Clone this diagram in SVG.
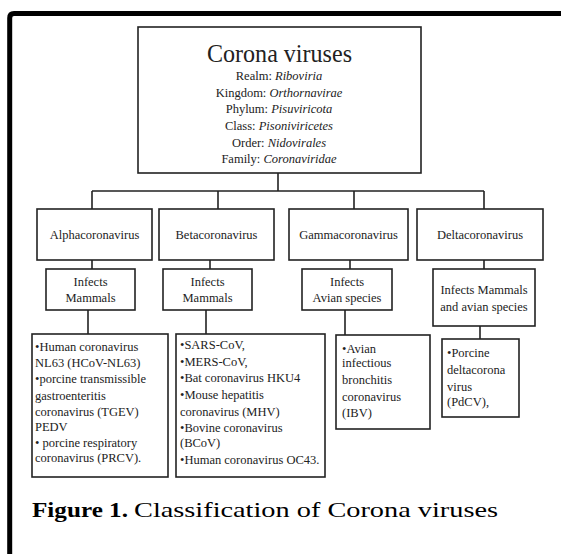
<svg xmlns="http://www.w3.org/2000/svg" width="561" height="554" viewBox="0 0 561 554">
<style>
.box{fill:#fff;stroke:#222;stroke-width:1.6}
.ln{stroke:#222;stroke-width:1.6;fill:none}
.t{font-family:"Liberation Serif","Times New Roman",serif;fill:#222;font-size:12.5px}
.c{text-anchor:middle}
.i{font-style:italic}
.cap{font-family:"Liberation Serif","Times New Roman",serif;fill:#000;font-size:22px}
</style>
<rect x="0" y="0" width="561" height="554" fill="#fff"/>
<path d="M9.7,600 V18 Q9.7,13.5 14,13.5 H600" fill="none" stroke="#000" stroke-width="5"/>

<g id="connectors">
<path class="ln" d="M278,173 V191 M92,191 H484 M92,191 V209 M218,191 V209 M354,191 V209 M484,191 V209"/>
<path class="ln" d="M92,260 V269 M210,260 V269 M350,260 V269 M484,260 V269"/>
<path class="ln" d="M88,310 V334 M206,310 V334 M345,310 V335 M480,326 V339"/>
</g>

<g id="root">
<rect class="box" x="138" y="27" width="283" height="146"/>
<text class="t" x="207" y="62" style="font-size:26px" textLength="145" lengthAdjust="spacingAndGlyphs">Corona viruses</text>
<text class="t c" x="279" y="80">Realm: <tspan class="i">Riboviria</tspan></text>
<text class="t c" x="279" y="96.5">Kingdom: <tspan class="i">Orthornavirae</tspan></text>
<text class="t c" x="279" y="113">Phylum: <tspan class="i">Pisuviricota</tspan></text>
<text class="t c" x="279" y="130">Class: <tspan class="i">Pisoniviricetes</tspan></text>
<text class="t c" x="279" y="146.5">Order: <tspan class="i">Nidovirales</tspan></text>
<text class="t c" x="279" y="163">Family: <tspan class="i">Coronaviridae</tspan></text>
</g>

<g id="alpha">
<rect class="box" x="37" y="209" width="115" height="51"/>
<text class="t c" x="94.5" y="239">Alphacoronavirus</text>
</g>
<g id="beta">
<rect class="box" x="159" y="209" width="115" height="51"/>
<text class="t c" x="216.5" y="239">Betacoronavirus</text>
</g>
<g id="gamma">
<rect class="box" x="289" y="209" width="119" height="51"/>
<text class="t c" x="348.5" y="239">Gammacoronavirus</text>
</g>
<g id="delta">
<rect class="box" x="417" y="209" width="126" height="51"/>
<text class="t c" x="480" y="239">Deltacoronavirus</text>
</g>

<g id="alpha-host">
<rect class="box" x="46" y="269" width="89" height="41"/>
<text class="t c" x="90.5" y="286">Infects</text>
<text class="t c" x="90.5" y="302">Mammals</text>
</g>
<g id="beta-host">
<rect class="box" x="163" y="269" width="89" height="41"/>
<text class="t c" x="207.5" y="286">Infects</text>
<text class="t c" x="207.5" y="302">Mammals</text>
</g>
<g id="gamma-host">
<rect class="box" x="302" y="269" width="90" height="41"/>
<text class="t c" x="347" y="286">Infects</text>
<text class="t c" x="347" y="302">Avian species</text>
</g>
<g id="delta-host">
<rect class="box" x="433" y="269" width="102" height="57"/>
<text class="t c" x="484" y="294">Infects Mammals</text>
<text class="t c" x="484" y="311">and avian species</text>
</g>

<g id="alpha-list">
<rect class="box" x="32" y="334" width="136" height="143"/>
<text class="t" x="35" y="351">•Human coronavirus</text>
<text class="t" x="35" y="367">NL63 (HCoV-NL63)</text>
<text class="t" x="35" y="383">•porcine transmissible</text>
<text class="t" x="35" y="400">gastroenteritis</text>
<text class="t" x="35" y="416">coronavirus (TGEV)</text>
<text class="t" x="35" y="431">PEDV</text>
<text class="t" x="35" y="447">• porcine respiratory</text>
<text class="t" x="35" y="462">coronavirus (PRCV).</text>
</g>
<g id="beta-list">
<rect class="box" x="176" y="334" width="149" height="143"/>
<text class="t" x="180" y="349">•SARS-CoV,</text>
<text class="t" x="180" y="366">•MERS-CoV,</text>
<text class="t" x="180" y="382">•Bat coronavirus HKU4</text>
<text class="t" x="180" y="399">•Mouse hepatitis</text>
<text class="t" x="180" y="416">coronavirus (MHV)</text>
<text class="t" x="180" y="432">•Bovine coronavirus</text>
<text class="t" x="180" y="447">(BCoV)</text>
<text class="t" x="180" y="464">•Human coronavirus OC43.</text>
</g>
<g id="gamma-list">
<rect class="box" x="336" y="335" width="94" height="94"/>
<text class="t" x="342" y="353">•Avian</text>
<text class="t" x="342" y="367">infectious</text>
<text class="t" x="342" y="384">bronchitis</text>
<text class="t" x="342" y="401">coronavirus</text>
<text class="t" x="342" y="417">(IBV)</text>
</g>
<g id="delta-list">
<rect class="box" x="442" y="339" width="77" height="78"/>
<text class="t" x="447" y="357">•Porcine</text>
<text class="t" x="447" y="374">deltacorona</text>
<text class="t" x="447" y="391">virus</text>
<text class="t" x="447" y="406">(PdCV),</text>
</g>

<text class="cap" x="32" y="517" font-weight="bold" textLength="96" lengthAdjust="spacingAndGlyphs">Figure 1.</text>
<text class="cap" x="134" y="517" textLength="364" lengthAdjust="spacingAndGlyphs">Classification of Corona viruses</text>
</svg>
